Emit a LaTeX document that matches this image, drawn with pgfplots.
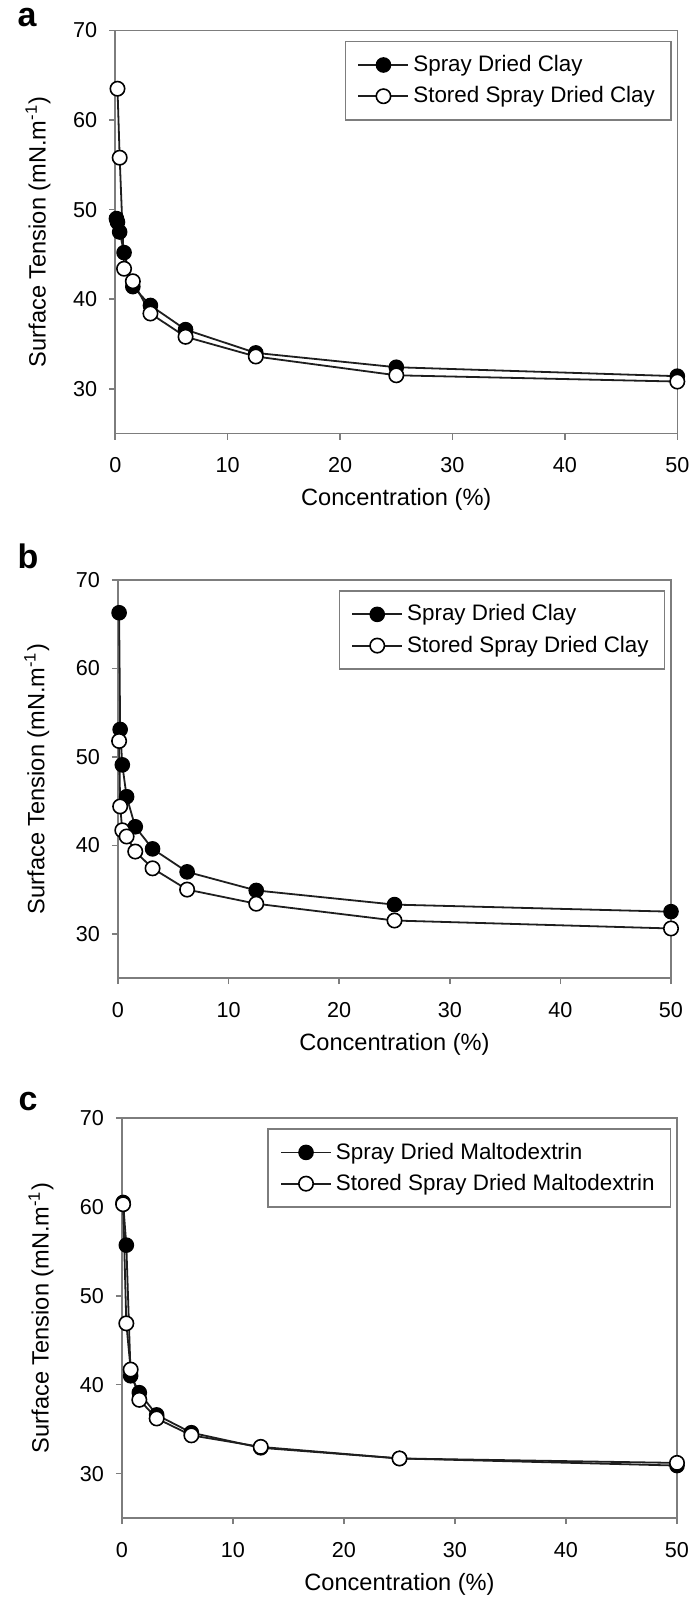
\documentclass[border=0pt]{standalone}
\usepackage{pgfplots}
\pgfplotsset{compat=1.18}
\usepackage{fontspec}
\setmainfont{Liberation Sans}

\definecolor{axgray}{RGB}{125,125,125}
\definecolor{linedark}{RGB}{30,30,30}

\pgfplotsset{
  panel/.style={
    scale only axis,
    xmin=0, xmax=50, ymin=25, ymax=70,
    xtick={0,10,20,30,40,50}, ytick={30,40,50,60,70},
    axis line style={axgray, line width=0.8pt},
    tick style={axgray, line width=0.8pt},
    tick align=outside, major tick length=3pt,
    xtick pos=left, ytick pos=left,
    /pgf/number format/assume math mode=true,
    ticklabel style={font=\fontsize{10.8}{12}\selectfont},
    xticklabel style={yshift=-5.5pt},
    yticklabel style={xshift=-2.5pt},
    label style={font=\fontsize{11.8}{14}\selectfont},
    xlabel={Concentration (\%)},
    ylabel={Surface Tension (mN.m\textsuperscript{-1})},
    xlabel style={at={(axis description cs:0.5,0)}, anchor=center, yshift=-33pt},
    legend style={at={(0.99,0.975)}, anchor=north east, draw=axgray, line width=0.8pt,
      font=\fontsize{11.2}{13}\selectfont, inner xsep=6pt, inner ysep=5pt,
      row sep=2pt, cells={anchor=west}},
    legend image code/.code={
      \draw[mark repeat=2, mark phase=2] plot coordinates {(0pt,0pt) (12.5pt,0pt) (25pt,0pt)};
    },
  },
  fresh/.style={color=linedark, line width=0.9pt, mark=*, mark size=3.6pt,
    mark options={fill=black, draw=black, line width=0.6pt}},
  stored/.style={color=linedark, line width=0.9pt, mark=*, mark size=3.6pt,
    mark options={fill=white, draw=black, line width=0.8pt}},
}
\tikzset{panel letter/.style={font=\fontsize{17}{19}\selectfont\bfseries}}

\begin{document}
\begin{tikzpicture}
\path[use as bounding box] (0pt,0pt) rectangle (345.5pt,-801pt);

% panel a
\node[panel letter] at (13.5pt,-9pt) {a};
\begin{axis}[panel, at={(57.65pt,-15.25pt)}, anchor=north west,
  width=281pt, height=201.5pt,
  ylabel style={at={(axis description cs:-0.1375,0.5)}, anchor=center}]
\addplot[fresh] coordinates {
  (0.1,49.0) (0.195,48.6) (0.39,47.5) (0.78,45.2) (1.56,41.4)
  (3.125,39.3) (6.25,36.6) (12.5,34.0) (25,32.4) (50,31.4)};
\addlegendentry{Spray Dried Clay}
\addplot[stored] coordinates {
  (0.195,63.5) (0.39,55.8) (0.78,43.4) (1.56,42.0)
  (3.125,38.4) (6.25,35.8) (12.5,33.6) (25,31.5) (50,30.8)};
\addlegendentry{Stored Spray Dried Clay}
\end{axis}

% panel b
\node[panel letter] at (14pt,-278pt) {b};
\begin{axis}[panel, at={(59pt,-290pt)}, anchor=north west,
  width=276.5pt, height=199pt,
  ylabel style={at={(axis description cs:-0.147,0.5)}, anchor=center}]
\addplot[fresh] coordinates {
  (0.1,66.3) (0.195,53.1) (0.39,49.1) (0.78,45.5) (1.56,42.1)
  (3.125,39.6) (6.25,37.0) (12.5,34.9) (25,33.3) (50,32.5)};
\addlegendentry{Spray Dried Clay}
\addplot[stored] coordinates {
  (0.1,51.8) (0.195,44.4) (0.39,41.7) (0.78,41.0) (1.56,39.3)
  (3.125,37.4) (6.25,35.0) (12.5,33.4) (25,31.5) (50,30.6)};
\addlegendentry{Stored Spray Dried Clay}
\end{axis}

% panel c
\node[panel letter] at (14pt,-551pt) {c};
\begin{axis}[panel, at={(61pt,-559pt)}, anchor=north west,
  width=277.5pt, height=200pt,
  ylabel style={at={(axis description cs:-0.146,0.5)}, anchor=center}]
\addplot[fresh] coordinates {
  (0.1,60.5) (0.39,55.7) (0.78,41.0) (1.56,39.1)
  (3.125,36.6) (6.25,34.6) (12.5,32.9) (25,31.7) (50,30.9)};
\addlegendentry{Spray Dried Maltodextrin}
\addplot[stored] coordinates {
  (0.1,60.3) (0.39,46.9) (0.78,41.7) (1.56,38.3)
  (3.125,36.2) (6.25,34.3) (12.5,33.0) (25,31.7) (50,31.2)};
\addlegendentry{Stored Spray Dried Maltodextrin}
\end{axis}
\end{tikzpicture}
\end{document}
